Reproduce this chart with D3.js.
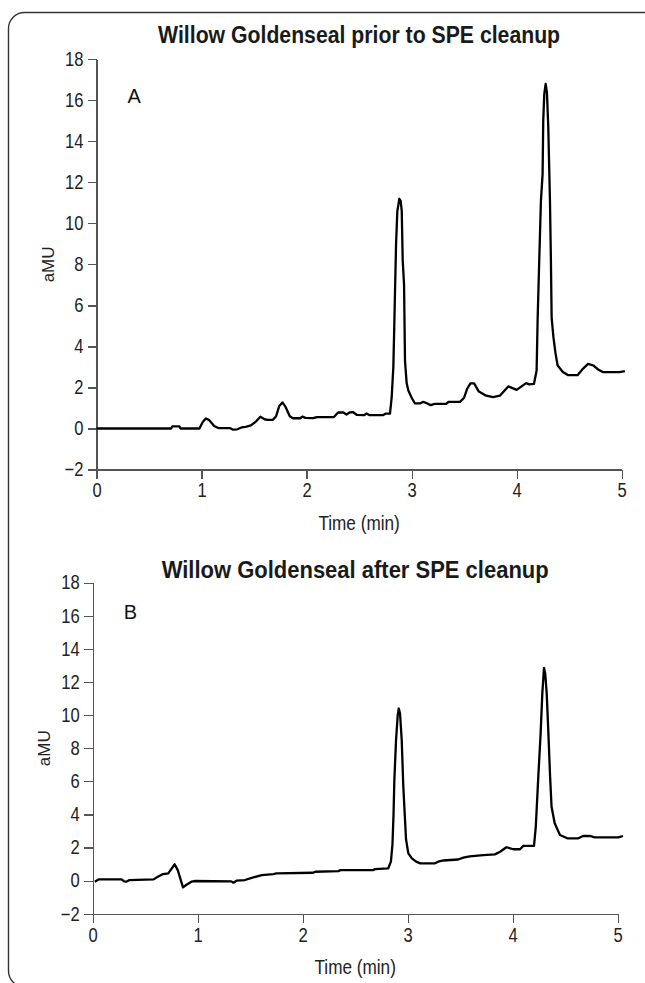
<!DOCTYPE html>
<html lang="en">
<head>
<meta charset="utf-8">
<title>Willow Goldenseal SPE cleanup</title>
<style>
  body { margin: 0; padding: 0; background: white; overflow: hidden; }
  svg { display: block; background: white; }
  .axis path, .axis line { fill: none; stroke: #555; stroke-width: 1.2px; shape-rendering: crispEdges; }
  .axis text { font-family: "Liberation Sans", Arial, sans-serif; font-size: 19.5px; fill: #222; }
  .title { font-family: "Liberation Sans", Arial, sans-serif; font-weight: bold; font-size: 23px; fill: #1a1a1a; }
  .xlabel { font-family: "Liberation Sans", Arial, sans-serif; font-size: 19.5px; fill: #222; }
  .ylabel { font-family: "Liberation Sans", Arial, sans-serif; font-size: 17px; fill: #222; }
  .panel { font-family: "Liberation Sans", Arial, sans-serif; font-size: 20px; fill: #111; }
  .trace { fill: none; stroke: #000; stroke-width: 2.3px; stroke-linejoin: round; }
</style>
</head>
<body>
<div id="chart"></div>

<script src="https://cdn.jsdelivr.net/npm/d3@7"></script>
<script>

var titles = ["Willow Goldenseal prior to SPE cleanup", "Willow Goldenseal after SPE cleanup"];
var panelLetters = ["A", "B"];
var xTicks = [0, 1, 2, 3, 4, 5];
var yTicks = [-2, 0, 2, 4, 6, 8, 10, 12, 14, 16, 18];

// trace A (time in min, signal in aMU)
var timeA = [0, 0.71, 0.72, 0.79, 0.80, 0.98, 1.01, 1.04, 1.07, 1.12, 1.16, 1.27, 1.30, 1.34, 1.38, 1.42, 1.47, 1.52, 1.56, 1.60,
  1.63, 1.68, 1.71, 1.74, 1.77, 1.80, 1.84, 1.87, 1.94, 1.96, 1.99, 2.06, 2.10, 2.26, 2.30, 2.35, 2.38, 2.41, 2.44, 2.48,
  2.55, 2.57, 2.60, 2.73, 2.75, 2.794, 2.81, 2.826, 2.836, 2.842, 2.852, 2.864, 2.874, 2.883, 2.896, 2.906, 2.915, 2.928, 2.937, 2.953,
  2.969, 3.0, 3.032, 3.08, 3.11, 3.14, 3.18, 3.22, 3.33, 3.35, 3.46, 3.50, 3.53, 3.56, 3.595, 3.64, 3.71, 3.775, 3.84, 3.92,
  4.0, 4.06, 4.09, 4.12, 4.165, 4.19, 4.20, 4.215, 4.231, 4.247, 4.253, 4.263, 4.276, 4.288, 4.301, 4.317, 4.326, 4.333, 4.35, 4.37,
  4.39, 4.44, 4.49, 4.58, 4.63, 4.68, 4.73, 4.78, 4.82, 4.98, 5.03];
var signalA = [0, 0, 0.1, 0.1, 0, 0, 0.3, 0.49, 0.42, 0.12, 0.02, 0.02, -0.06, -0.04, 0.05, 0.08, 0.15, 0.35, 0.57, 0.45,
  0.42, 0.42, 0.6, 1.1, 1.27, 1.05, 0.6, 0.5, 0.5, 0.58, 0.52, 0.5, 0.55, 0.56, 0.78, 0.78, 0.68, 0.78, 0.8, 0.66,
  0.65, 0.73, 0.65, 0.65, 0.72, 0.72, 1.5, 3.0, 5.25, 6.7, 9.0, 10.6, 10.9, 11.2, 11.1, 10.6, 8.2, 7.0, 3.3, 2.2,
  1.85, 1.5, 1.22, 1.22, 1.3, 1.24, 1.14, 1.2, 1.2, 1.3, 1.3, 1.5, 1.95, 2.2, 2.2, 1.8, 1.6, 1.53, 1.6, 2.05,
  1.88, 2.1, 2.21, 2.15, 2.18, 2.83, 5.4, 8.2, 11.1, 12.4, 15.0, 16.3, 16.8, 16.4, 14.7, 11.1, 8.2, 5.4, 4.45, 3.66,
  3.07, 2.75, 2.6, 2.6, 2.91, 3.15, 3.07, 2.86, 2.75, 2.75, 2.8];

// trace B
var timeB = [0.02, 0.06, 0.275, 0.30, 0.32, 0.35, 0.58, 0.62, 0.67, 0.72, 0.78, 0.81, 0.86, 0.89, 0.94, 0.97, 1.32, 1.34, 1.37, 1.45,
  1.53, 1.61, 1.72, 1.75, 2.10, 2.12, 2.34, 2.36, 2.67, 2.69, 2.815, 2.84, 2.855, 2.865, 2.873, 2.889, 2.905, 2.915, 2.927, 2.943,
  2.958, 2.984, 3.006, 3.04, 3.08, 3.12, 3.26, 3.29, 3.34, 3.48, 3.53, 3.59, 3.72, 3.83, 3.88, 3.94, 4.006, 4.07, 4.10, 4.203,
  4.22, 4.244, 4.266, 4.282, 4.298, 4.31, 4.324, 4.34, 4.356, 4.37, 4.40, 4.45, 4.52, 4.625, 4.67, 4.74, 4.78, 5.006, 5.05];
var signalB = [-0.06, 0.08, 0.08, -0.04, -0.06, 0.04, 0.08, 0.24, 0.4, 0.44, 0.99, 0.64, -0.4, -0.26, -0.06, -0.02, -0.04, -0.12, 0, 0.04,
  0.2, 0.34, 0.4, 0.44, 0.48, 0.54, 0.58, 0.64, 0.64, 0.7, 0.75, 1.15, 2.2, 4.0, 6.1, 8.5, 10.0, 10.4, 10.1, 8.5,
  5.7, 2.5, 1.65, 1.35, 1.15, 1.05, 1.05, 1.15, 1.22, 1.28, 1.39, 1.47, 1.55, 1.59, 1.75, 2.02, 1.9, 1.9, 2.1, 2.1,
  3.26, 6.3, 8.9, 11.3, 12.85, 12.5, 11.3, 8.9, 6.3, 4.47, 3.47, 2.76, 2.56, 2.56, 2.7, 2.7, 2.62, 2.62, 2.7];

var width = 645;
var height = 983;

var svg = d3.select("#chart")
  .append("svg")
  .attr("width", width)
  .attr("height", height);

// rounded frame: only the top and left edges show, the rest runs off the page
var r = 16;
svg.append("path")
  .attr("d", "M 900 12.5 H " + (8.5 + r) + " A " + r + " " + r + " 0 0 0 8.5 " + (12.5 + r) +
             " V " + (987 - r) + " A " + r + " " + r + " 0 0 0 " + (8.5 + r) + " 987 H 900")
  .attr("fill", "none")
  .attr("stroke", "#333")
  .attr("stroke-width", 1.4);

var panels = [
  { title: titles[0], letter: panelLetters[0], time: timeA, signal: signalA, titleWidth: 402,
    left: 96.5, right: 621.7, top: 59.3, bottom: 469.5, titleY: 43 },
  { title: titles[1], letter: panelLetters[1], time: timeB, signal: signalB, titleWidth: 387,
    left: 92.7, right: 617.7, top: 582.7, bottom: 913.8, titleY: 578 }
];

panels.forEach(drawPanel);

// squeeze text horizontally to look like the condensed face of the original
function condense(sel, factor) {
  sel.each(function() {
    var w = this.getComputedTextLength();
    d3.select(this)
      .attr("textLength", w * factor)
      .attr("lengthAdjust", "spacingAndGlyphs");
  });
}

function drawPanel(p) {
  var x = d3.scaleLinear().domain([0, 5]).range([p.left, p.right]);
  var y = d3.scaleLinear().domain([-2, 18]).range([p.bottom, p.top]);

  var g = svg.append("g");

  g.append("text")
    .attr("class", "title")
    .attr("x", (p.left + p.right) / 2)
    .attr("y", p.titleY)
    .attr("text-anchor", "middle")
    .attr("textLength", p.titleWidth)
    .attr("lengthAdjust", "spacingAndGlyphs")
    .text(p.title);

  var yAxis = g.append("g")
    .attr("class", "axis")
    .attr("transform", "translate(" + p.left + ",0)")
    .call(d3.axisLeft(y).tickValues(yTicks).tickSize(9).tickSizeOuter(0).tickPadding(4)
      .tickFormat(function(d) { return d < 0 ? "\u2212" + Math.abs(d) : String(d); }));

  var xAxis = g.append("g")
    .attr("class", "axis")
    .attr("transform", "translate(0," + p.bottom + ")")
    .call(d3.axisBottom(x).tickValues(xTicks).tickSize(9).tickSizeOuter(0).tickPadding(5)
      .tickFormat(d3.format("d")));

  condense(yAxis.selectAll("text"), 0.85);
  condense(xAxis.selectAll("text"), 0.85);

  var xl = g.append("text")
    .attr("class", "xlabel")
    .attr("x", (p.left + p.right) / 2)
    .attr("y", p.bottom + 60)
    .attr("text-anchor", "middle")
    .text("Time (min)");
  condense(xl, 0.88);

  g.append("text")
    .attr("class", "ylabel")
    .attr("text-anchor", "middle")
    .attr("transform", "translate(" + (p.left - 43) + "," + ((p.top + p.bottom) / 2) + ") rotate(-90)")
    .text("aMU");

  g.append("text")
    .attr("class", "panel")
    .attr("x", p.left + 31)
    .attr("y", y(16) + 3)
    .text(p.letter);

  var line = d3.line()
    .x(function(d) { return x(d[0]); })
    .y(function(d) { return y(d[1]); });

  g.append("path")
    .attr("class", "trace")
    .attr("d", line(d3.zip(p.time, p.signal)));
}

</script>
</body>
</html>
